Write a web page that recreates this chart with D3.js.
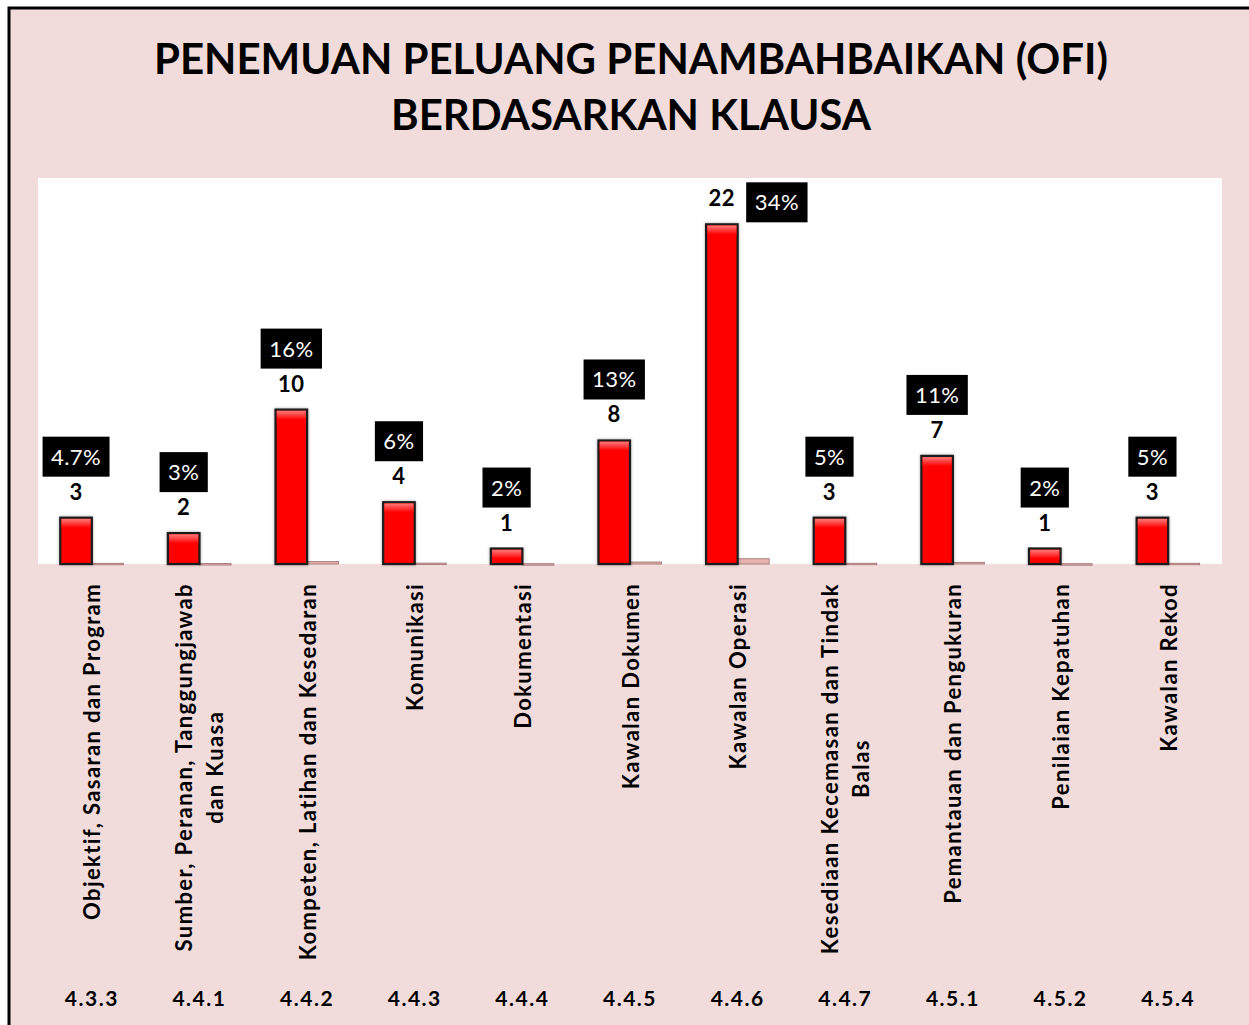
<!DOCTYPE html>
<html>
<head>
<meta charset="utf-8">
<script src="https://cdn.jsdelivr.net/npm/d3@7"></script>
<style>
  body { margin: 0; background: #ffffff; }
  svg { display: block; }
</style>
</head>
<body>
<div id="chart"></div>
<script>
// clause codes (bottom row)
var codes = ["4.3.3", "4.4.1", "4.4.2", "4.4.3", "4.4.4", "4.4.5", "4.4.6", "4.4.7", "4.5.1", "4.5.2", "4.5.4"];
// clause names, one entry per category, split in lines
var names = [
  ["Objektif, Sasaran dan Program"],
  ["Sumber, Peranan, Tanggungjawab", "dan Kuasa"],
  ["Kompeten, Latihan dan Kesedaran"],
  ["Komunikasi"],
  ["Dokumentasi"],
  ["Kawalan Dokumen"],
  ["Kawalan Operasi"],
  ["Kesediaan Kecemasan dan Tindak", "Balas"],
  ["Pemantauan dan Pengukuran"],
  ["Penilaian Kepatuhan"],
  ["Kawalan Rekod"]
];
// OFI findings per clause
var counts = [3, 2, 10, 4, 1, 8, 22, 3, 7, 1, 3];
// share of findings (second series, plotted on the same axis)
var shares = [0.047, 0.03, 0.16, 0.06, 0.02, 0.13, 0.34, 0.05, 0.11, 0.02, 0.05];
var shareLabels = ["4.7%", "3%", "16%", "6%", "2%", "13%", "34%", "5%", "11%", "2%", "5%"];
var titleLines = ["PENEMUAN PELUANG PENAMBAHBAIKAN (OFI)", "BERDASARKAN KLAUSA"];

var W = 1249, H = 1025;
var plot = {left: 38, right: 1222, top: 178, bottom: 564};
var font = "Lato, 'Open Sans', sans-serif";

var svg = d3.select("#chart")
  .append("svg")
    .attr("width", W)
    .attr("height", H);

var defs = svg.append("defs");
var bevel = defs.append("linearGradient")
    .attr("id", "bevel")
    .attr("x1", 0).attr("y1", 0).attr("x2", 0).attr("y2", 1);
bevel.append("stop").attr("offset", "0%").attr("stop-color", "#ff7a7a");
bevel.append("stop").attr("offset", "100%").attr("stop-color", "#ff0000");

var shadow = defs.append("filter")
    .attr("id", "shadow")
    .attr("x", "-30%").attr("y", "-10%").attr("width", "160%").attr("height", "120%");
shadow.append("feDropShadow")
    .attr("dx", 0).attr("dy", 0)
    .attr("stdDeviation", 1.6)
    .attr("flood-color", "#000")
    .attr("flood-opacity", 0.35);

// chart area background + frame (frame runs off the right / bottom edge)
svg.append("rect")
    .attr("x", 9).attr("y", 8)
    .attr("width", W + 20).attr("height", H + 20)
    .attr("fill", "#f2dcdb")
    .attr("stroke", "#000")
    .attr("stroke-width", 3);

// plot area
svg.append("rect")
    .attr("x", plot.left).attr("y", plot.top)
    .attr("width", plot.right - plot.left)
    .attr("height", plot.bottom - plot.top)
    .attr("fill", "#ffffff");

// title
svg.append("g")
  .selectAll("text")
  .data(titleLines)
  .enter()
  .append("text")
    .attr("x", 631)
    .attr("y", function(d, i) { return 74 + i * 56; })
    .attr("text-anchor", "middle")
    .style("font-family", font)
    .style("font-weight", "bold")
    .style("font-size", "42px")
    .attr("fill", "#000")
    .text(function(d) { return d; });

// scales
var x0 = d3.scaleBand()
    .domain(codes)
    .range([plot.left, plot.right])
    .paddingInner(0.414)
    .paddingOuter(0.207);

var x1 = d3.scaleBand()
    .domain(["count", "share"])
    .range([0, x0.bandwidth()]);

var y = d3.scaleLinear()
    .domain([0, 25])
    .range([plot.bottom, plot.top]);

var rows = codes.map(function(c, i) {
  return {code: c, name: names[i], count: counts[i], share: shares[i], label: shareLabels[i]};
});

// share bars (tiny, sit on the baseline)
svg.append("g")
  .selectAll("rect")
  .data(rows)
  .enter()
  .append("rect")
    .attr("x", function(d) { return x0(d.code) + x1("share"); })
    .attr("y", function(d) { return y(d.share); })
    .attr("width", x1.bandwidth())
    .attr("height", function(d) { return Math.max(1.5, y(0) - y(d.share)); })
    .attr("fill", "#e6b1b0")
    .attr("stroke", "#9a6d6c")
    .attr("stroke-width", 0.8);

// count bars
var bars = svg.append("g")
  .selectAll("g")
  .data(rows)
  .enter()
  .append("g");

bars.append("rect")
    .attr("x", function(d) { return x0(d.code) + x1("count"); })
    .attr("y", function(d) { return y(d.count); })
    .attr("width", x1.bandwidth())
    .attr("height", function(d) { return y(0) - y(d.count); })
    .attr("fill", "#ff0000")
    .attr("stroke", "#1a1a1a")
    .attr("stroke-width", 2.2)
    .attr("filter", "url(#shadow)");

bars.append("rect")
    .attr("x", function(d) { return x0(d.code) + x1("count") + 1.2; })
    .attr("y", function(d) { return y(d.count) + 1.2; })
    .attr("width", x1.bandwidth() - 2.4)
    .attr("height", function(d) { return Math.min(9, y(0) - y(d.count) - 2.4); })
    .attr("fill", "url(#bevel)");

// count labels
var countCx = function(d) { return x0(d.code) + x1("count") + x1.bandwidth() / 2; };

svg.append("g")
  .selectAll("text")
  .data(rows)
  .enter()
  .append("text")
    .attr("x", countCx)
    .attr("y", function(d) { return y(d.count) - 18; })
    .attr("text-anchor", "middle")
    .style("font-family", font)
    .style("font-weight", "bold")
    .style("font-size", "22px")
    .style("letter-spacing", "0.5px")
    .attr("fill", "#000")
    .text(function(d) { return d.count; });

// percentage labels in black boxes
var pct = svg.append("g")
  .selectAll("g")
  .data(rows)
  .enter()
  .append("g")
    .attr("transform", function(d) {
      var cy = y(d.count) - 26 - 35;
      var cx = countCx(d);
      if (cy - 20 < plot.top) { // no room above: put it beside the value
        cx = countCx(d) + 55;
        cy = y(d.count) - 22;
      }
      return "translate(" + cx + "," + cy + ")";
    });

pct.append("text")
    .attr("x", 0)
    .attr("y", 8)
    .attr("text-anchor", "middle")
    .style("font-family", font)
    .style("font-size", "22px")
    .style("letter-spacing", "0.4px")
    .attr("fill", "#ffffff")
    .text(function(d) { return d.label; });

pct.insert("rect", "text")
    .each(function() {
      var t = d3.select(this.parentNode).select("text").node();
      var w = t.getComputedTextLength() + 17;
      d3.select(this)
        .attr("x", -w / 2)
        .attr("y", -20)
        .attr("width", w)
        .attr("height", 40);
    })
    .attr("fill", "#000");

// category names, rotated, top-aligned under the plot
var nameGroups = svg.append("g")
  .selectAll("g")
  .data(rows)
  .enter()
  .append("g");

nameGroups.each(function(d) {
  var g = d3.select(this);
  var cx = x0(d.code) + x0.bandwidth() / 2;
  var n = d.name.length;
  var texts = g.selectAll("text")
    .data(d.name)
    .enter()
    .append("text")
      .attr("text-anchor", "middle")
      .attr("dominant-baseline", "central")
      .style("font-family", font)
      .style("font-weight", "bold")
      .style("font-size", "22px")
      .style("letter-spacing", "1.4px")
      .attr("fill", "#000")
      .text(function(s) { return s; });
  var longest = d3.max(texts.nodes(), function(t) { return t.getComputedTextLength(); });
  texts.attr("transform", function(s, j) {
    var lx = cx + (j - (n - 1) / 2) * 31;
    return "translate(" + lx + "," + (583 + longest / 2) + ") rotate(-90)";
  });
});

// clause codes
svg.append("g")
  .selectAll("text")
  .data(rows)
  .enter()
  .append("text")
    .attr("x", function(d) { return x0(d.code) + x0.bandwidth() / 2; })
    .attr("y", 1006)
    .attr("text-anchor", "middle")
    .style("font-family", font)
    .style("font-weight", "bold")
    .style("font-size", "21px")
    .style("letter-spacing", "1.5px")
    .attr("fill", "#000")
    .text(function(d) { return d.code; });
</script>
</body>
</html>
